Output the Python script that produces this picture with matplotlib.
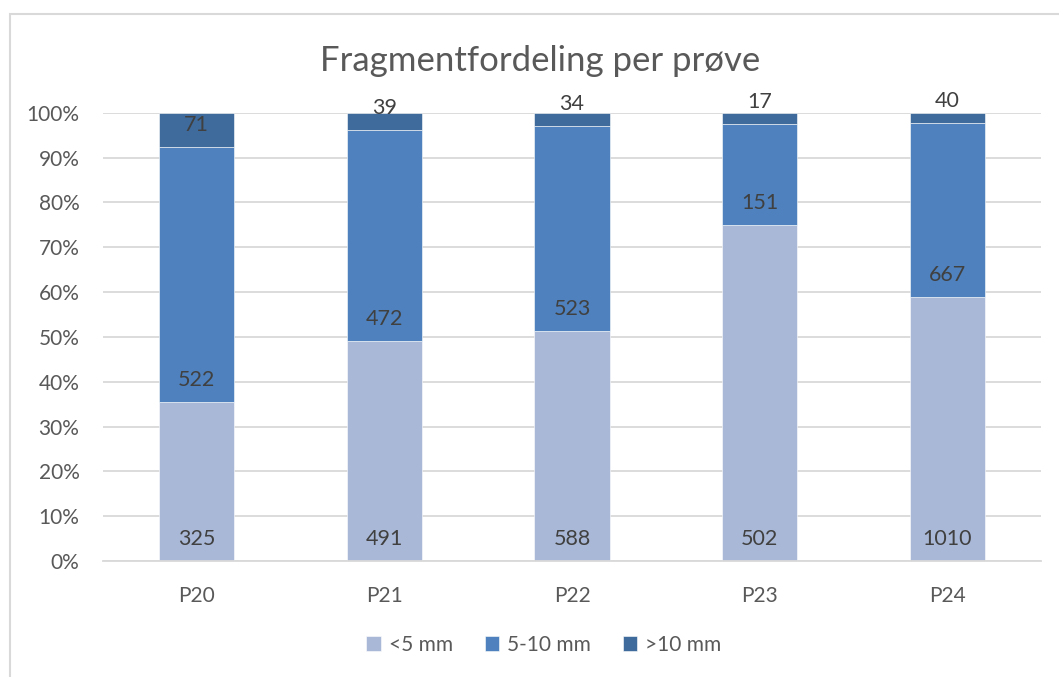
import numpy as np
import matplotlib
matplotlib.use("Agg")
import matplotlib.pyplot as plt
from matplotlib.patches import Rectangle
from matplotlib.ticker import PercentFormatter

plt.rcParams['font.family'] = ['Lato', 'DejaVu Sans']

# fragmenter per prøve, antall i hver størrelsesklasse
prover = ["P20", "P21", "P22", "P23", "P24"]
klasser = ["<5 mm", "5-10 mm", ">10 mm"]
under_5 = [325, 491, 588, 502, 1010]
mellom_5_10 = [522, 472, 523, 151, 667]
over_10 = [71, 39, 34, 17, 40]
farger = ["#A9B8D6", "#4E81BD", "#3E6A9C"]

antall = np.array([under_5, mellom_5_10, over_10], dtype=float)
andel = antall / antall.sum(axis=0)

fig = plt.figure(figsize=(10.59, 6.77), dpi=100)
ax = fig.add_axes([103 / 1059, 1 - 561 / 677, (1041 - 103) / 1059, (561 - 112.7) / 677])

# ramme rundt diagramområdet
fig.patches.append(Rectangle((10 / 1059, -0.1), 1.2, 1 - 14 / 677 + 0.1,
                             transform=fig.transFigure, fill=False,
                             edgecolor="#D9D9D9", linewidth=1.5, zorder=0))

x = np.arange(len(prover))
bunn = np.zeros(len(prover))
for i, klasse in enumerate(klasser):
    ax.bar(x, andel[i], 0.4, bottom=bunn, color=farger[i], label=klasse,
           edgecolor="white", linewidth=0.4, zorder=2)
    for j in range(len(prover)):
        ax.annotate(f"{int(antall[i, j])}", (x[j], bunn[j]), xytext=(0, 24),
                    textcoords="offset pixels", ha="center", va="center_baseline",
                    fontsize=15.5, color="#404040", zorder=3)
    bunn += andel[i]

ax.set_xlim(-0.5, len(prover) - 0.5)
ax.set_ylim(0, 1)
ax.set_yticks(np.arange(0, 1.01, 0.1))
ax.yaxis.set_major_formatter(PercentFormatter(1.0, decimals=0))
ax.set_xticks(x)
ax.set_xticklabels(prover)
ax.tick_params(axis="y", length=0, pad=17, labelsize=15, labelcolor="#595959")
ax.tick_params(axis="x", length=0, pad=18, labelsize=15, labelcolor="#595959")
ax.grid(axis="y", color="#D9D9D9", linewidth=1.3, zorder=0)
ax.set_axisbelow(True)
for side in ["top", "right", "left"]:
    ax.spines[side].set_visible(False)
ax.spines["bottom"].set_color("#D9D9D9")
ax.spines["bottom"].set_linewidth(1.3)

fig.text(540 / 1059, 1 - 61 / 677, "Fragmentfordeling per prøve", ha="center",
         va="center", fontsize=25, color="#595959")

fig.legend(loc="center", bbox_to_anchor=(544 / 1059, 1 - 645 / 677), ncol=3,
           frameon=False, fontsize=15, labelcolor="#595959", handlelength=0.7,
           handleheight=0.7, handletextpad=0.4, columnspacing=1.5)

fig.savefig("out.png", dpi=100)
